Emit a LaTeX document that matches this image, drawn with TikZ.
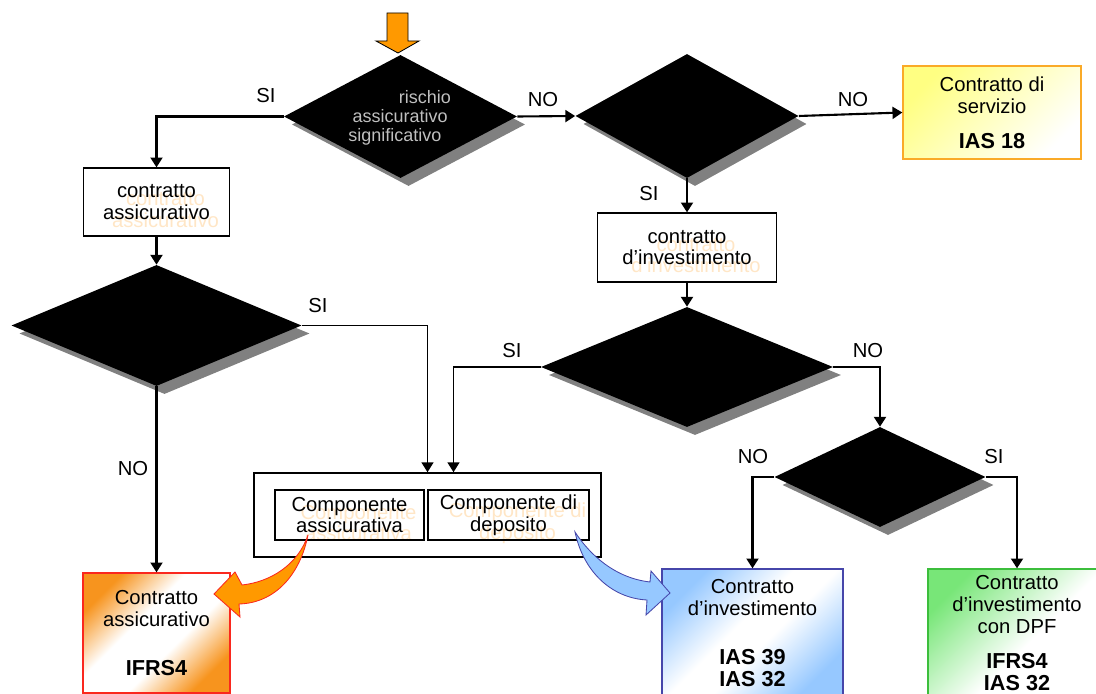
\documentclass[tikz,border=0pt]{standalone}
\usepackage{fontspec}
\setmainfont{Liberation Sans}
\usepackage{tikz}
\usetikzlibrary{shapes.geometric, arrows.meta, shadows, calc, backgrounds}

\definecolor{boxorange}{RGB}{247,148,30}
\definecolor{redline}{RGB}{250,40,30}
\definecolor{arroworange}{RGB}{255,153,0}
\definecolor{boxblue}{RGB}{150,200,255}
\definecolor{blueline}{RGB}{70,70,170}
\definecolor{boxgreen}{RGB}{120,230,120}
\definecolor{greenline}{RGB}{60,190,60}
\definecolor{boxyellow}{RGB}{255,255,130}
\definecolor{yellowline}{RGB}{250,170,40}
\definecolor{shadowgray}{RGB}{128,128,128}
\definecolor{ghostorange}{RGB}{255,230,198}

\pgfdeclarehorizontalshading{orangediag}{100bp}{color(0bp)=(boxorange); color(25bp)=(boxorange); color(42bp)=(white); color(58bp)=(white); color(75bp)=(boxorange); color(100bp)=(boxorange)}
\pgfdeclarehorizontalshading{bluediag}{100bp}{color(0bp)=(boxblue); color(25bp)=(boxblue); color(45bp)=(white); color(55bp)=(white); color(75bp)=(boxblue); color(100bp)=(boxblue)}
\pgfdeclarehorizontalshading{greendiag}{100bp}{color(0bp)=(boxgreen); color(25bp)=(boxgreen); color(55bp)=(white); color(100bp)=(white)}
\pgfdeclarehorizontalshading{yellowdiag}{100bp}{color(0bp)=(boxyellow); color(25bp)=(boxyellow); color(75bp)=(white); color(100bp)=(white)}

\tikzset{
  base/.style={font=\fontsize{14.4}{15.5}\selectfont, align=center},
  decision/.style={diamond, fill=black, inner sep=0pt,
    general shadow={fill=shadowgray, shadow xshift=0.2cm, shadow yshift=-0.2cm}},
  process/.style={base, draw, line width=0.9pt, inner sep=0pt},
  result/.style={base, draw, line width=0.9pt, inner sep=0pt, shade, shading angle=-45},
  ghost/.style={base, text=ghostorange},
  lbl/.style={font=\fontsize{14.4}{15.5}\selectfont, inner sep=0pt},
  conn/.style={line width=1.5pt, -{Triangle[length=7pt, width=8.5pt]}},
  link/.style={line width=1pt, -{Triangle[length=7pt, width=8.5pt]}},
}

\newcommand{\bigb}[1]{{\fontsize{15.4}{16.5}\selectfont\bfseries #1}}
\newcommand{\txtass}{contratto\\assicurativo}
\newcommand{\txtinv}{contratto\\d’investimento}
\newcommand{\txtcompa}{Componente\\assicurativa}
\newcommand{\txtcompd}{Componente di\\deposito}

\begin{document}
\begin{tikzpicture}[x=0.025cm, y=-0.025cm]
\clip (0,0) rectangle (1096,694);

% start arrow
\filldraw[fill=arroworange, draw=black, line width=0.6pt]
  (387,13) -- (408,13) -- (408,41) -- (419,41) -- (398,53) -- (376,41) -- (387,41) -- cycle;

% decisions
\node[decision, minimum width=5.825cm, minimum height=3.075cm] (d1) at (400.5,116.5) {};
\node[decision, minimum width=5.575cm, minimum height=3.1cm] (d2) at (687,116) {};
\node[decision, minimum width=7.25cm, minimum height=3.025cm] (d3) at (156.5,325.5) {};
\node[decision, minimum width=7.3cm, minimum height=3.0cm] (d4) at (687,367) {};
\node[decision, minimum width=5.275cm, minimum height=2.5cm] (d5) at (880,477) {};
\node[base, align=left, anchor=west, inner sep=0pt, text=black!25,
  font=\fontsize{12.8}{13.4}\selectfont] (risk) at (348,118)
  {\hspace*{36pt}rischio\\\hspace*{3pt}assicurativo\\significativo};

% contract boxes
\node[process, minimum width=3.65cm, minimum height=1.7cm] (boxA) at (156.5,202) {\txtass};
\node[process, minimum width=4.475cm, minimum height=1.725cm] (boxI) at (687,247.5) {\txtinv};
\node[process, line width=1.1pt, minimum width=8.675cm, minimum height=2.1cm] (split) at (427.5,515) {};
\node[process, minimum width=3.725cm, minimum height=1.25cm] (compA) at (349.5,515) {\txtcompa};
\node[process, minimum width=4.025cm, minimum height=1.25cm] (compD) at (508.5,515) {\txtcompd};

\begin{scope}[on background layer]
  \node[ghost] (gA) at ([shift={(9,8)}]boxA.center) {\txtass};
  \node[ghost] (gI) at ([shift={(9,8)}]boxI.center) {\txtinv};
  \node[ghost] (gcA) at ([shift={(9,8)}]compA.center) {\txtcompa};
  \node[ghost] (gcD) at ([shift={(9,8)}]compD.center) {\txtcompd};
\end{scope}

% results
\node[result, draw=yellowline, shading=yellowdiag, minimum width=4.45cm, minimum height=2.325cm] (serv) at (992,112.5)
  {Contratto di\\servizio\\[9.5pt]\bigb{IAS 18}};
\node[result, draw=redline, shading=orangediag, minimum width=3.675cm, minimum height=3.0cm] (ifrs) at (156.5,633)
  {Contratto\\assicurativo\\[19pt]\bigb{IFRS4}};
\node[result, draw=blueline, shading=bluediag, minimum width=4.525cm, minimum height=3.2cm] (inv) at (752.5,633)
  {Contratto\\d’investimento\\[19pt]\bigb{IAS 39}\\\bigb{IAS 32}};
\node[result, draw=greenline, shading=greendiag, minimum width=4.45cm, minimum height=3.2cm] (dpf) at (1017,633)
  {Contratto\\d’investimento\\con DPF\\[9.5pt]\bigb{IFRS4}\\\bigb{IAS 32}};

% connectors
\draw[conn] (d1.west) -| (boxA.north);
\draw[conn] (d1.east) -- (d2.west);
\draw[conn] (d2.east) -- (serv.west);
\draw[conn] (d2.south) -- (boxI.north);
\draw[conn] (boxA.south) -- (d3.north);
\draw[conn] (boxI.south) -- (d4.north);
\draw[link] (d3.east) -| (split.north);
\draw[conn] (d3.south) -- (ifrs.north);
\draw[link] (d4.west) -| ($(split.north)+(26,0)$);
\draw[conn] (d4.east) -| (d5.north);
\draw[conn] (d5.west) -| (inv.north);
\draw[conn] (d5.east) -| (dpf.north);

% yes / no
\node[lbl] (si1) at (266,96) {SI};
\node[lbl] (no1) at (543,100) {NO};
\node[lbl] (no2) at (853,100) {NO};
\node[lbl] (si2) at (649,194) {SI};
\node[lbl] (si3) at (318,306) {SI};
\node[lbl] (no3) at (133,469) {NO};
\node[lbl] (si4) at (512,351) {SI};
\node[lbl] (no4) at (868,351) {NO};
\node[lbl] (no5) at (753,457) {NO};
\node[lbl] (si5) at (994,457) {SI};

% curved arrows
\filldraw[fill=arroworange, draw=redline, line width=0.6pt]
  (308,535) .. controls (298,565) and (270,582) .. (242,585) -- (235,572) -- (214,594)
  -- (240,617) -- (239,604) .. controls (275,603) and (300,575) .. (308,535) -- cycle;
\filldraw[fill=boxblue, draw=blueline, line width=0.6pt]
  (575,532) .. controls (590,555) and (615,578) .. (650,582) -- (651,571) -- (670,593)
  -- (646,615) -- (647,600) .. controls (610,598) and (583,570) .. (575,532) -- cycle;
\end{tikzpicture}
\end{document}
